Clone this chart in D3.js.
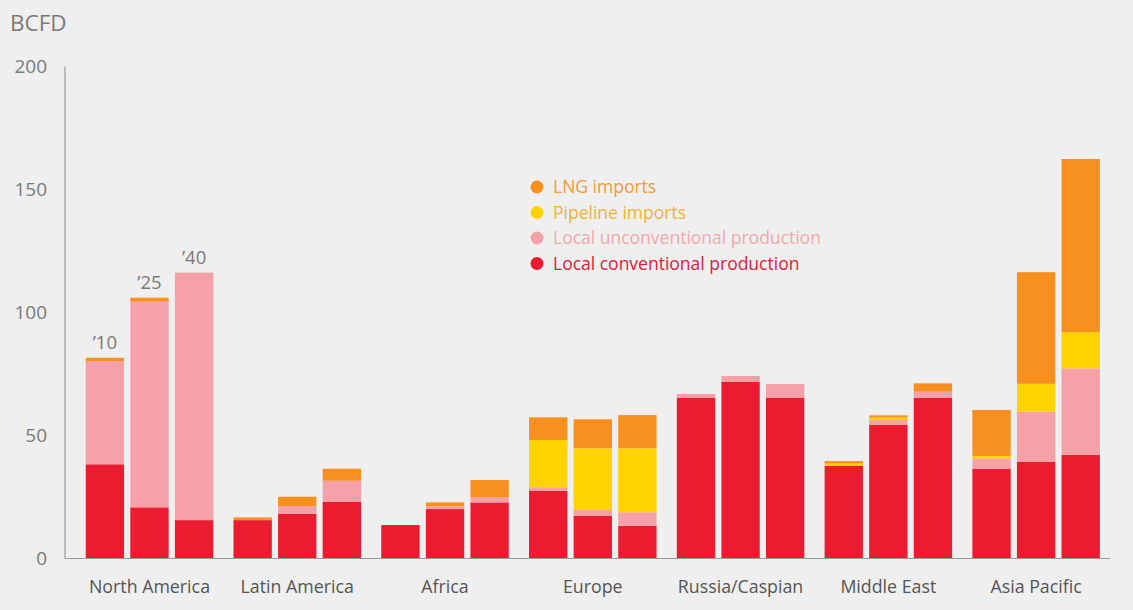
<!DOCTYPE html>
<html><head><meta charset="utf-8">
<script src="https://cdn.jsdelivr.net/npm/d3@7"></script>
<style>
html,body{margin:0;padding:0;background:#efefef;}
svg{display:block;font-family:"Open Sans",Lato,sans-serif;}
</style></head>
<body><svg id="c" width="1133" height="610"></svg>
<script>
const regions = ["North America","Latin America","Africa","Europe","Russia/Caspian","Middle East","Asia Pacific"];
const years = ["’10","’25","’40"];
const seriesNames = ["Local conventional production","Local unconventional production","Pipeline imports","LNG imports"];
const seriesKeys = ["conv","unconv","pipe","lng"];
const yTicks = [0,50,100,150,200];
// values per region, per year [2010, 2025, 2040]
const conv   = [[38.3,20.8,15.6],[15.6,18.2,23.0],[13.6,20.1,22.8],[27.6,17.4,13.3],[65.4,71.9,65.4],[37.6,54.3,65.4],[36.4,39.4,42.1]];
const unconv = [[42.0,83.6,100.6],[0,3.1,8.6],[0,1.1,2.2],[1.4,2.3,5.5],[1.5,2.3,5.5],[0,2.0,2.4],[4.3,20.3,35.2]];
const pipe   = [[0,0,0],[0,0,0],[0,0,0],[19.2,25.1,26.0],[0,0,0],[1.0,1.0,0],[1.0,11.3,14.7]];
const lng    = [[1.3,1.6,0],[1.1,3.8,4.9],[0,1.6,6.9],[9.2,11.8,13.5],[0,0,0],[1.0,0.9,3.4],[18.7,45.4,70.4]];

const colors = {conv:"#ec1b2f", unconv:"#f6a1a8", pipe:"#ffd200", lng:"#f7901e"};
const textColors = {conv:"#e0203a", unconv:"#f4a7ae", pipe:"#efb23a", lng:"#f29a3c"};

const rows = [];
regions.forEach((r,i)=>years.forEach((yr,j)=>{
  rows.push({region:r, year:yr, conv:conv[i][j], unconv:unconv[i][j], pipe:pipe[i][j], lng:lng[i][j]});
}));

const svg = d3.select("#c");
const y = d3.scaleLinear().domain([0,200]).range([558.5,66.5]);
const x0 = d3.scaleBand().domain(regions).range([75.6,1110]).paddingInner(0.137).paddingOuter(0.0685);
const x1 = d3.scaleBand().domain(years).range([0,x0.bandwidth()]).paddingInner(0.14).paddingOuter(0);

const stack = d3.stack().keys(seriesKeys);
const stacked = stack(rows);

// bars
svg.append("g").selectAll("g").data(stacked).join("g")
  .attr("fill", d=>colors[d.key])
  .selectAll("rect").data(d=>d).join("rect")
  .attr("x", d=>x0(d.data.region)+x1(d.data.year))
  .attr("width", x1.bandwidth())
  .attr("y", d=>y(d[1]))
  .attr("height", d=>Math.max(0,y(d[0])-y(d[1])));

// axes lines
svg.append("line").attr("x1",65).attr("x2",65).attr("y1",y(200)).attr("y2",y(0))
  .attr("stroke","#9a9a9a").attr("stroke-width",1.2);
svg.append("line").attr("x1",65).attr("x2",1110).attr("y1",y(0)).attr("y2",y(0))
  .attr("stroke","#9a9a9a").attr("stroke-width",1.2);

// y tick labels
svg.append("g").selectAll("text").data(yTicks).join("text")
  .attr("x",47).attr("y",d=>y(d)).attr("dy","0.35em")
  .attr("text-anchor","end").attr("fill","#7a7a7a").attr("font-size",19)
  .text(d=>d);

svg.append("text").attr("x",10).attr("y",31).attr("fill","#7a7a7a").attr("font-size",22.5).text("BCFD");

// category labels
svg.append("g").selectAll("text").data(regions).join("text")
  .attr("x",d=>x0(d)+x0.bandwidth()/2).attr("y",593)
  .attr("text-anchor","middle").attr("fill","#555").attr("font-size",17.8)
  .text(d=>d);

// year labels on North America
const na = rows.filter(r=>r.region===regions[0]);
svg.append("g").selectAll("text").data(na).join("text")
  .attr("x",d=>x0(d.region)+x1(d.year)+x1.bandwidth()/2)
  .attr("y",d=>y(d.conv+d.unconv+d.pipe+d.lng)-9)
  .attr("text-anchor","middle").attr("fill","#7a7a7a").attr("font-size",18.5)
  .text(d=>d.year);

// legend
const legendKeys = ["lng","pipe","unconv","conv"];
const legendLabels = {lng:"LNG imports", pipe:"Pipeline imports", unconv:"Local unconventional production", conv:"Local conventional production"};
const lg = svg.append("g").attr("transform","translate(537,187)");
const li = lg.selectAll("g").data(legendKeys).join("g").attr("transform",(d,i)=>`translate(0,${i*25.5})`);
li.append("circle").attr("r",6.5).attr("fill",d=>colors[d]);
li.append("text").attr("x",16).attr("dy","0.35em").attr("font-size",17.5).attr("fill",d=>textColors[d]).text(d=>legendLabels[d]);
</script></body></html>
